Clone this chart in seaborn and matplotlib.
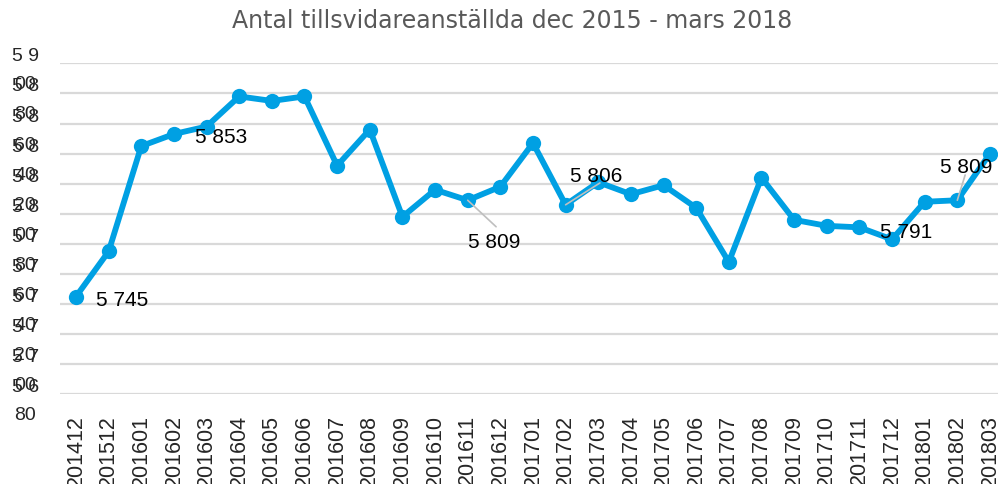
import matplotlib
matplotlib.use("Agg")
import matplotlib.pyplot as plt
import seaborn as sns

# monthly headcount, permanent employees
months = ["201412", "201512", "201601", "201602", "201603", "201604", "201605",
          "201606", "201607", "201608", "201609", "201610", "201611", "201612",
          "201701", "201702", "201703", "201704", "201705", "201706", "201707",
          "201708", "201709", "201710", "201711", "201712", "201801", "201802",
          "201803"]
employees = [5745, 5775, 5845, 5853, 5858, 5878, 5875, 5878, 5832, 5856,
             5798, 5816, 5809, 5818, 5847, 5806, 5821, 5813, 5819, 5804,
             5768, 5824, 5796, 5792, 5791, 5783, 5808, 5809, 5840]
y_ticks = list(range(5680, 5901, 20))

# which points carry a data label
labelled = [0, 3, 12, 15, 24, 27]

BLUE = "#00a0e3"
GRID = "#d9d9d9"

sns.set_theme(style="white")
plt.rcParams["font.family"] = ["Liberation Sans", "DejaVu Sans"]

fig = plt.figure(figsize=(9.98, 4.84), dpi=100)
ax = fig.add_axes([0.0598, 0.1851, 0.9485, 0.6841])

x = list(range(len(months)))
sns.lineplot(x=x, y=employees, ax=ax, color=BLUE, linewidth=4.2,
             marker="o", markersize=11, markeredgewidth=0, clip_on=False,
             zorder=3)

ax.set_xlim(-0.5, len(months) - 0.5)
ax.set_ylim(y_ticks[0], y_ticks[-1])
ax.set_yticks(y_ticks)
# Excel wrapped the tick text into two lines
ylabels = []
for v in y_ticks:
    s = f"{v:,}".replace(",", " ")
    ylabels.append(s[:3] + "\n" + s[3:])
ax.set_yticklabels(ylabels, fontsize=14, linespacing=1.85,
                   multialignment="center")
ax.set_xticks(x)
ax.set_xticklabels(months, rotation=90, fontsize=15.5, va="top")
ax.tick_params(axis="y", length=0, pad=15)
ax.tick_params(axis="x", length=0, pad=15)

ax.grid(axis="y", color=GRID, linewidth=1.6)
ax.set_axisbelow(True)
for sp in ax.spines.values():
    sp.set_visible(False)
ax.set_xlabel("")
ax.set_ylabel("")

# label offsets (x in categories, y in values) and optional leader ends
offsets = {0: (0.61, -2.3, None), 3: (0.65, -2.6, None),
           12: (0.02, -27.9, (0.87, -17.6)), 15: (0.13, 18.6, (1.05, 14.5)),
           24: (0.63, -3.1, None), 27: (-0.53, 22.1, (0.24, 16.8))}
for i in labelled:
    dx, dy, lead = offsets[i]
    v = employees[i]
    txt = f"{v:,}".replace(",", " ")
    if lead is not None:
        ax.plot([i, i + lead[0]], [v, v + lead[1]], color="#bfbfbf",
                linewidth=1.2, zorder=4)
    ax.text(i + dx, v + dy, txt, fontsize=15, color="#000000",
            ha="left", va="center", zorder=5)

fig.text(0.513, 0.957, "Antal tillsvidareanställda dec 2015 - mars 2018",
         ha="center", va="center", fontsize=17, color="#595959",
         family=["DejaVu Sans"])

fig.savefig("out.png", dpi=100)
